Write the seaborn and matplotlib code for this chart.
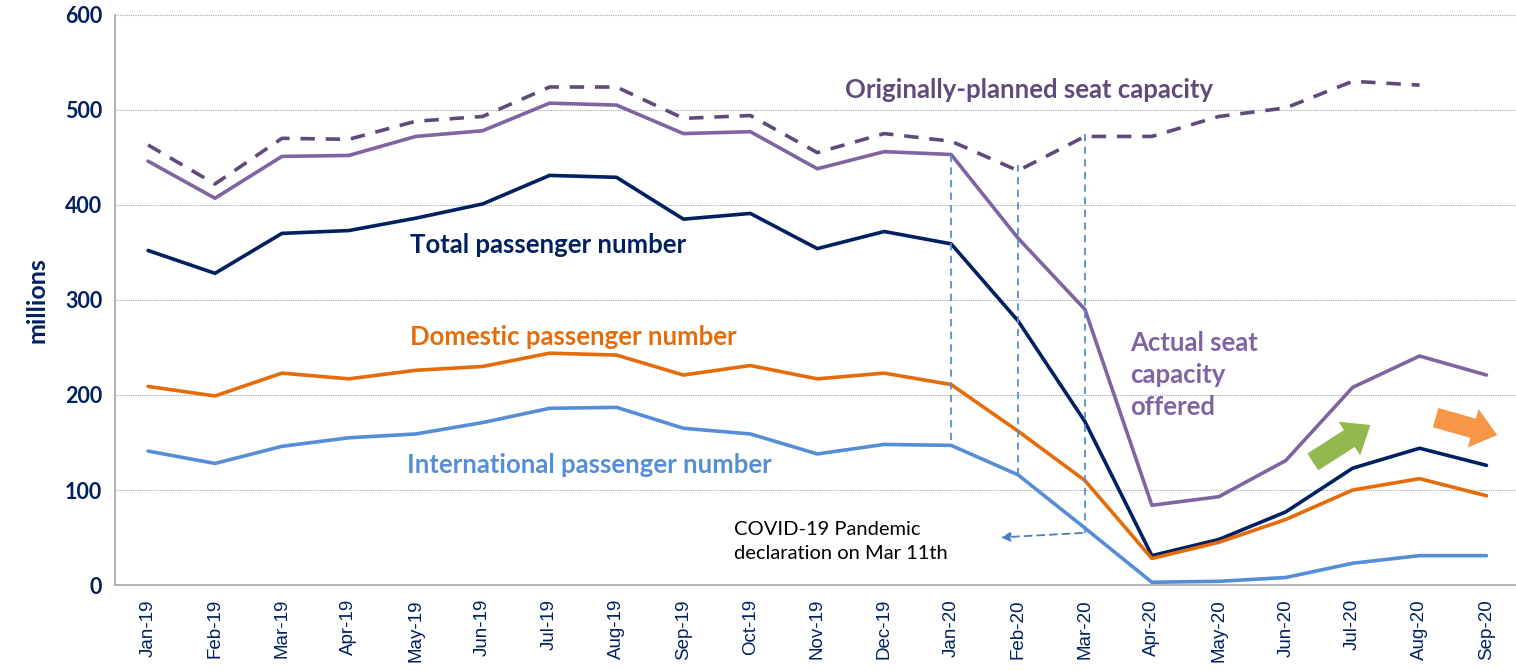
import numpy as np
import pandas as pd
import matplotlib
matplotlib.use("Agg")
import matplotlib.pyplot as plt
import seaborn as sns

# --- DATA (millions) ---
months = ["Jan-19", "Feb-19", "Mar-19", "Apr-19", "May-19", "Jun-19", "Jul-19",
          "Aug-19", "Sep-19", "Oct-19", "Nov-19", "Dec-19", "Jan-20", "Feb-20",
          "Mar-20", "Apr-20", "May-20", "Jun-20", "Jul-20", "Aug-20", "Sep-20"]

planned_capacity = [463, 422, 470, 469, 488, 493, 524, 524, 491, 494, 455, 475,
                    467, 436, 472, 472, 493, 502, 530, 526, np.nan]
actual_capacity = [446, 407, 451, 452, 472, 478, 507, 505, 475, 477, 438, 456,
                   453, 365, 290, 84, 93, 131, 208, 241, 221]
total_pax = [352, 328, 370, 373, 386, 401, 431, 429, 385, 391, 354, 372,
             359, 278, 172, 31, 48, 77, 123, 144, 126]
domestic_pax = [209, 199, 223, 217, 226, 230, 244, 242, 221, 231, 217, 223,
                211, 162, 110, 28, 45, 69, 100, 112, 94]
international_pax = [141, 128, 146, 155, 159, 171, 186, 187, 165, 159, 138, 148,
                     147, 116, 60, 3, 4, 8, 23, 31, 31]

df = pd.DataFrame({
    "month": months,
    "planned": planned_capacity,
    "actual": actual_capacity,
    "total": total_pax,
    "domestic": domestic_pax,
    "international": international_pax,
})

c_planned = "#604A7B"
c_actual = "#8064A2"
c_total = "#002060"
c_dom = "#E46C0A"
c_int = "#558ED5"

sns.set_style("white")
plt.rcParams["font.family"] = ["Lato", "DejaVu Sans"]

fig = plt.figure(figsize=(15.16, 6.71), dpi=100)
ax = fig.add_axes([0.0756, 0.128, 0.927, 0.85])

x = np.arange(len(months))

# --- LINJER ---
sns.lineplot(x=x, y=df["planned"], ax=ax, color=c_planned, lw=2.6,
             linestyle=(0, (4, 3)))
sns.lineplot(x=x, y=df["actual"], ax=ax, color=c_actual, lw=2.6)
sns.lineplot(x=x, y=df["total"], ax=ax, color=c_total, lw=2.6)
sns.lineplot(x=x, y=df["domestic"], ax=ax, color=c_dom, lw=2.6)
sns.lineplot(x=x, y=df["international"], ax=ax, color=c_int, lw=2.6)

# --- VERTIKALE MARKERINGER ---
ax.vlines(12, 153, 455, colors=c_int, linestyles=(0, (4, 3)), lw=1.3)
ax.vlines(13, 116, 442, colors=c_int, linestyles=(0, (4, 3)), lw=1.3)
ax.vlines(14, 55, 476, colors=c_int, linestyles=(0, (4, 3)), lw=1.3)
ax.annotate("", xy=(12.7, 50), xytext=(14, 55),
            arrowprops=dict(arrowstyle="-|>", color="#4A7EC0", lw=1.3,
                            linestyle=(0, (4, 3)), mutation_scale=14))

# --- PILER ---
ax.annotate("", xy=(18.3, 170), xytext=(17.37, 128),
            arrowprops=dict(arrowstyle="simple,head_width=1.6,tail_width=0.8,head_length=1.0",
                            color="#92B84F", mutation_scale=18, lw=0))
ax.annotate("", xy=(20.2, 157), xytext=(19.2, 177),
            arrowprops=dict(arrowstyle="simple,head_width=1.6,tail_width=0.8,head_length=1.0",
                            color="#F79646", mutation_scale=18, lw=0))

# --- TEKST ---
ax.text(3.92, 358, "Total passenger number", color=c_total, fontsize=18.5,
        fontweight="bold", ha="left", va="center")
ax.text(3.92, 261, "Domestic passenger number", color=c_dom, fontsize=18.5,
        fontweight="bold", ha="left", va="center")
ax.text(3.87, 126, "International passenger number", color=c_int, fontsize=18.5,
        fontweight="bold", ha="left", va="center")
ax.text(10.42, 521, "Originally-planned seat capacity", color=c_planned,
        fontsize=18.5, fontweight="bold", ha="left", va="center")
ax.text(14.68, 221, "Actual seat\ncapacity\noffered", color=c_actual, fontsize=18.5,
        fontweight="bold", ha="left", va="center", linespacing=1.4)
ax.text(8.76, 46, "COVID-19 Pandemic\ndeclaration on Mar 11th", color="black",
        fontsize=14.5, ha="left", va="center", linespacing=1.45)

# --- AKSER ---
ax.set_xlim(-0.5, len(months) - 0.5)
ax.set_ylim(0, 600)
ax.set_yticks(range(0, 601, 100))
ax.set_xticks(x)
ax.set_xticklabels(months, rotation=90, fontsize=13.5, color=c_total,
                   family=["Liberation Sans", "DejaVu Sans"])
ax.set_xticks(np.arange(-0.5, len(months), 1), minor=True)
ax.tick_params(axis="x", which="major", length=0, pad=10)
ax.tick_params(axis="x", which="minor", length=6, color="#A6A6A6", direction="out")
ax.tick_params(axis="y", length=5, color="#A6A6A6", direction="out", pad=4,
               labelsize=15.5, labelcolor=c_total)
for lab in ax.get_yticklabels():
    lab.set_fontweight("bold")
ax.set_xlabel("")
ax.set_ylabel("millions", fontsize=18, fontweight="bold", color=c_total, labelpad=12)
ax.grid(axis="y", color="#A6A6A6", linestyle=(0, (1, 1)), lw=0.8)
for side in ["top", "right"]:
    ax.spines[side].set_visible(False)
for side in ["left", "bottom"]:
    ax.spines[side].set_color("#A6A6A6")
    ax.spines[side].set_linewidth(1.2)

fig.savefig("out.png", dpi=100)
